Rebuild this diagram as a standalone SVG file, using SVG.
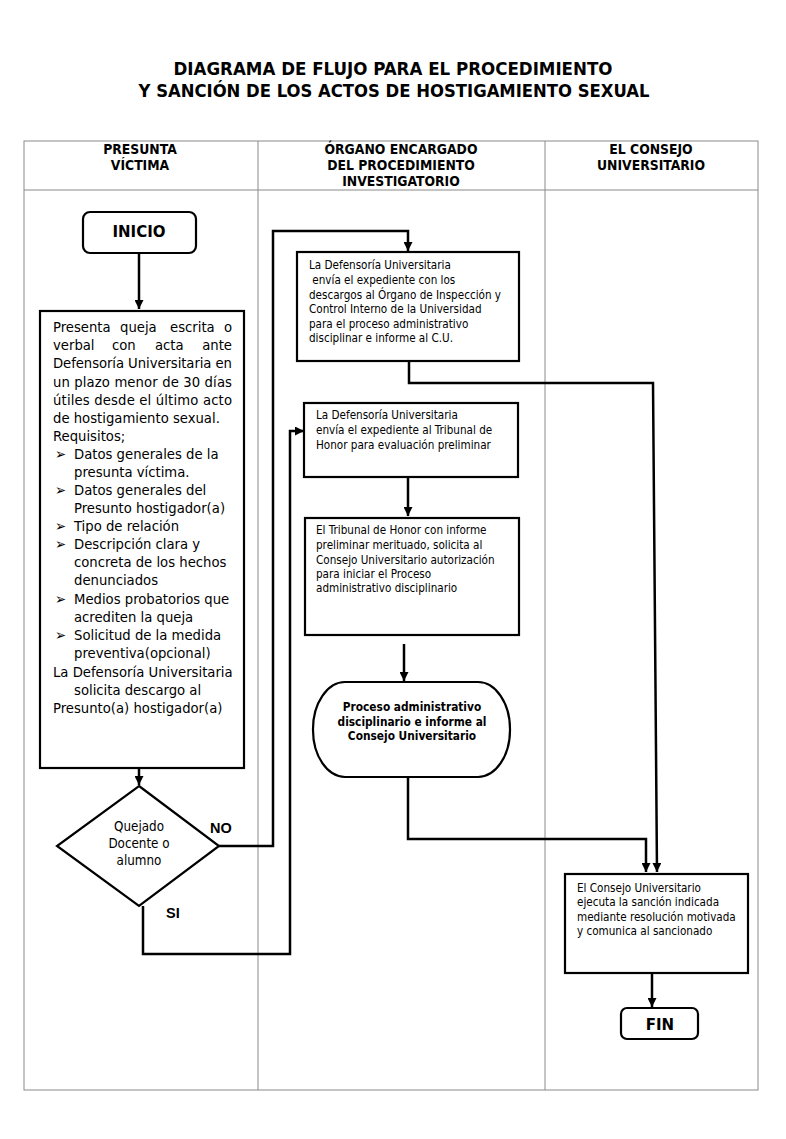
<svg xmlns="http://www.w3.org/2000/svg" width="786" height="1139" viewBox="0 0 786 1139">
<style>
.grid{fill:none;stroke:#8a8a8a;stroke-width:1}
.box{fill:#fff;stroke:#000;stroke-width:2.2}
.con{fill:none;stroke:#000;stroke-width:2.5}
.title{font-family:"DejaVu Sans Condensed","DejaVu Sans",sans-serif;font-weight:bold;font-size:17px;text-anchor:middle}
.hd{font-family:"DejaVu Sans Condensed","DejaVu Sans",sans-serif;font-weight:bold;font-size:13.8px;text-anchor:middle}
.big{font-family:"DejaVu Sans Condensed","DejaVu Sans",sans-serif;font-size:14.7px}
.sm{font-family:"DejaVu Sans Condensed","DejaVu Sans",sans-serif;font-size:11.6px}
.smb{font-family:"DejaVu Sans Condensed","DejaVu Sans",sans-serif;font-size:11.8px;font-weight:bold;text-anchor:middle}
.dia{font-family:"DejaVu Sans Condensed","DejaVu Sans",sans-serif;font-size:13.3px;text-anchor:middle}
.term{font-family:"DejaVu Sans",sans-serif;font-size:15px;font-weight:bold;text-anchor:middle}
.lbl{font-family:"Liberation Sans",Arial,sans-serif;font-size:14.5px;font-weight:bold}
</style>
<defs>
<marker id="ah" viewBox="0 0 10 10" refX="10" refY="5" markerWidth="9" markerHeight="9" markerUnits="userSpaceOnUse" orient="auto">
<path d="M0,0 L10,5 L0,10 z" fill="#000"/>
</marker>
</defs>
<rect width="786" height="1139" fill="#fff"/>
<g id="title">
<text class="title" x="393" y="75" textLength="439" lengthAdjust="spacingAndGlyphs">DIAGRAMA DE FLUJO PARA EL PROCEDIMIENTO</text>
<text class="title" x="394" y="97" textLength="511" lengthAdjust="spacingAndGlyphs">Y SANCIÓN DE LOS ACTOS DE HOSTIGAMIENTO SEXUAL</text>
</g>
<g id="lanes">
<rect class="grid" x="24" y="141" width="734" height="949"/>
<line class="grid" x1="24" y1="190" x2="758" y2="190"/>
<line class="grid" x1="258" y1="141" x2="258" y2="1090"/>
<line class="grid" x1="545" y1="141" x2="545" y2="1090"/>
<text class="hd" x="140" y="154">PRESUNTA</text>
<text class="hd" x="140" y="170">VÍCTIMA</text>
<text class="hd" x="401" y="154">ÓRGANO ENCARGADO</text>
<text class="hd" x="401" y="170">DEL PROCEDIMIENTO</text>
<text class="hd" x="401" y="186">INVESTIGATORIO</text>
<text class="hd" x="651" y="154">EL CONSEJO</text>
<text class="hd" x="651" y="170">UNIVERSITARIO</text>
</g>
<g id="connectors">
<path class="con" d="M139,253 V309" marker-end="url(#ah)"/>
<path class="con" d="M139,768 V785" marker-end="url(#ah)"/>
<path class="con" d="M219,846 H273 V231 H408 V251" marker-end="url(#ah)"/>
<path class="con" d="M143,906 V954 H290 V431 H304" marker-end="url(#ah)"/>
<path class="con" d="M409,361 V383 H653 L657,872" marker-end="url(#ah)"/>
<path class="con" d="M408,477 V516" marker-end="url(#ah)"/>
<path class="con" d="M404,644 V681" marker-end="url(#ah)"/>
<path class="con" d="M408,777 V839 H646 V872" marker-end="url(#ah)"/>
<path class="con" d="M652,973 V1007" marker-end="url(#ah)"/>
</g>
<g id="inicio">
<rect class="box" x="83" y="212" width="113" height="41" rx="7"/>
<text class="term" x="139" y="237">INICIO</text>
</g>
<g id="queja">
<rect class="box" x="40" y="311" width="204" height="457"/>
<text class="big"><tspan x="53" y="332">Presenta</tspan><tspan x="120" y="332">queja</tspan><tspan x="170" y="332">escrita</tspan><tspan x="232" y="332" text-anchor="end">o</tspan></text>
<text class="big"><tspan x="53" y="350">verbal</tspan><tspan x="112" y="350">con</tspan><tspan x="155" y="350">acta</tspan><tspan x="232" y="350" text-anchor="end">ante</tspan></text>
<text class="big" x="53" y="368" textLength="179" lengthAdjust="spacing">Defensoría Universitaria en</text>
<text class="big" x="53" y="387" textLength="179" lengthAdjust="spacing">un plazo menor de 30 días</text>
<text class="big" x="53" y="405" textLength="179" lengthAdjust="spacing">útiles desde el último acto</text>
<text class="big" x="53" y="423">de hostigamiento sexual.</text>
<text class="big" x="53" y="441">Requisitos;</text>
<text class="big" x="55" y="459">➢</text><text class="big" x="74" y="459">Datos generales de la</text>
<text class="big" x="74" y="477">presunta víctima.</text>
<text class="big" x="55" y="495">➢</text><text class="big" x="74" y="495">Datos generales del</text>
<text class="big" x="74" y="513">Presunto hostigador(a)</text>
<text class="big" x="55" y="531">➢</text><text class="big" x="74" y="531">Tipo de relación</text>
<text class="big" x="55" y="549">➢</text><text class="big" x="74" y="549">Descripción clara y</text>
<text class="big" x="74" y="567">concreta de los hechos</text>
<text class="big" x="74" y="585">denunciados</text>
<text class="big" x="55" y="604">➢</text><text class="big" x="74" y="604">Medios probatorios que</text>
<text class="big" x="74" y="622">acrediten la queja</text>
<text class="big" x="55" y="640">➢</text><text class="big" x="74" y="640">Solicitud de la medida</text>
<text class="big" x="74" y="658">preventiva(opcional)</text>
<text class="big" x="53" y="677">La Defensoría Universitaria</text>
<text class="big" x="74" y="695">solicita descargo al</text>
<text class="big" x="53" y="713">Presunto(a) hostigador(a)</text>
</g>
<g id="decision">
<polygon class="box" points="139,786 219,846 139,906 57,846"/>
<text class="dia" x="139" y="831">Quejado</text>
<text class="dia" x="139" y="848">Docente o</text>
<text class="dia" x="139" y="865">alumno</text>
<text class="lbl" x="210" y="833">NO</text>
<text class="lbl" x="166" y="918">SI</text>
</g>
<g id="envio-oci">
<rect class="box" x="297" y="252" width="222" height="109"/>
<text class="sm" x="309" y="269">La Defensoría Universitaria</text>
<text class="sm" x="309" y="284" xml:space="preserve"> envía el expediente con los</text>
<text class="sm" x="309" y="299">descargos al Órgano de Inspección y</text>
<text class="sm" x="309" y="313">Control Interno de la Universidad</text>
<text class="sm" x="309" y="328">para el proceso administrativo</text>
<text class="sm" x="309" y="342">disciplinar e informe al C.U.</text>
</g>
<g id="envio-tribunal">
<rect class="box" x="304" y="403" width="214" height="74"/>
<text class="sm" x="316" y="419">La Defensoría Universitaria</text>
<text class="sm" x="316" y="434">envía el expediente al Tribunal de</text>
<text class="sm" x="316" y="449">Honor para evaluación preliminar</text>
</g>
<g id="tribunal">
<rect class="box" x="305" y="518" width="214" height="117"/>
<text class="sm" x="316" y="534">El Tribunal de Honor con informe</text>
<text class="sm" x="316" y="549">preliminar merituado, solicita al</text>
<text class="sm" x="316" y="564">Consejo Universitario autorización</text>
<text class="sm" x="316" y="578">para iniciar el Proceso</text>
<text class="sm" x="316" y="592">administrativo disciplinario</text>
</g>
<g id="proceso">
<rect class="box" x="313" y="682" width="197" height="95" rx="32" ry="47"/>
<text class="smb" x="412" y="711">Proceso administrativo</text>
<text class="smb" x="412" y="726">disciplinario e informe al</text>
<text class="smb" x="412" y="740">Consejo Universitario</text>
</g>
<g id="sancion">
<rect class="box" x="565" y="874" width="183" height="99"/>
<text class="sm" x="577" y="892">El Consejo Universitario</text>
<text class="sm" x="577" y="906">ejecuta la sanción indicada</text>
<text class="sm" x="577" y="921">mediante resolución motivada</text>
<text class="sm" x="577" y="935">y comunica al sancionado</text>
</g>
<g id="fin">
<rect class="box" x="621" y="1008" width="77" height="31" rx="6"/>
<text class="term" x="660" y="1030">FIN</text>
</g>
</svg>
